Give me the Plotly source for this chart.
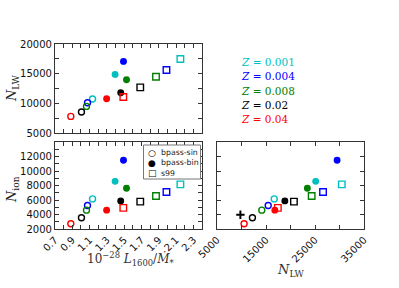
import plotly.graph_objects as go

# ---------------- data ----------------
z_labels = ["0.001", "0.004", "0.008", "0.02", "0.04"]
z_colors = ["#00bfbf", "#0000ff", "#008000", "#000000", "#ff0000"]
models = ["bpass-sin", "bpass-bin", "s99"]
symbols = ["circle-open", "circle", "square-open"]

# 10^-28 L1600 / Mdot* (order follows z_labels)
ratio_sin = [1.134, 1.076, 1.064, 1.006, 0.883]
ratio_bin = [1.395, 1.492, 1.527, 1.460, 1.297]
ratio_s99 = [2.150, 1.989, 1.868, 1.686, 1.490]

# N_LW (top panel)
nlw_sin = [10730, 10100, 9480, 8540, 7800]
nlw_bin = [14875, 17065, 13980, 11790, 10780]
nlw_s99 = [17470, 15615, 14490, 12690, 11066]

# N_ion
nion_sin = [6150, 5233, 4600, 3548, 2726]
nion_bin = [8575, 11490, 7616, 5877, 4600]
nion_s99 = [8160, 7110, 6560, 5781, 4918]

# N_LW (bottom-right panel)
nlw2_sin = [16680, 15450, 14140, 12230, 10530]
nlw2_bin = [25140, 29510, 23440, 18850, 16800]
nlw2_s99 = [30470, 26640, 24320, 20700, 17420]

# extra point (black plus)
extra_nlw = [9775]
extra_nion = [3960]

W, H = 399, 288


def px_x(p):
    return p / W


def px_y(p):
    return 1 - p / H


fig = go.Figure()

ratios = [ratio_sin, ratio_bin, ratio_s99]
nlws = [nlw_sin, nlw_bin, nlw_s99]
nions = [nion_sin, nion_bin, nion_s99]
nlw2s = [nlw2_sin, nlw2_bin, nlw2_s99]
msize = [6, 5.5, 6.5]

for i in range(3):
    mk = dict(symbol=symbols[i], color=z_colors, size=msize[i],
              line=dict(width=1.4, color=z_colors))
    fig.add_trace(go.Scatter(x=ratios[i], y=nlws[i], mode="markers", marker=mk,
                             xaxis="x", yaxis="y", showlegend=False))
    fig.add_trace(go.Scatter(x=ratios[i], y=nions[i], mode="markers", marker=mk,
                             xaxis="x2", yaxis="y2", showlegend=False))
    fig.add_trace(go.Scatter(x=nlw2s[i], y=nions[i], mode="markers", marker=mk,
                             xaxis="x3", yaxis="y3", showlegend=False))

fig.add_trace(go.Scatter(x=extra_nlw, y=extra_nion, mode="markers",
                         marker=dict(symbol="cross-thin-open", size=6, color="black",
                                     line=dict(width=2, color="black")),
                         xaxis="x3", yaxis="y3", showlegend=False))

tickfont = dict(family="DejaVu Sans", size=10, color="#111")
common = dict(showline=True, linewidth=1.2, linecolor="#333", mirror="allticks",
              ticks="inside", ticklen=4, tickwidth=1, tickcolor="#333",
              showgrid=False, zeroline=False, tickfont=tickfont,
              automargin=False, tickformat="d")

dom_left = [px_x(55), px_x(202)]
dom_right = [px_x(217), px_x(364)]
dom_top = [px_y(133), px_y(44)]
dom_bot = [px_y(229), px_y(142)]

fig.update_layout(
    width=W, height=H,
    margin=dict(l=0, r=0, t=0, b=0),
    paper_bgcolor="white", plot_bgcolor="white",
    showlegend=False,
    xaxis=dict(domain=dom_left, anchor="y", range=[0.7, 2.4],
               tickvals=[0.7, 0.9, 1.1, 1.3, 1.5, 1.7, 1.9, 2.1, 2.3],
               showticklabels=False,
               minor=dict(dtick=0.1, tick0=0.7, ticks="inside", ticklen=4,
                          tickcolor="#333"), **common),
    yaxis=dict(domain=dom_top, anchor="x", range=[5000, 20000],
               tickvals=[5000, 10000, 15000, 20000],
               minor=dict(dtick=2500, tick0=5000, ticks="inside", ticklen=4,
                          tickcolor="#333"), **common),
    xaxis2=dict(domain=dom_left, anchor="y2", range=[0.7, 2.4],
                tickvals=[0.7, 0.9, 1.1, 1.3, 1.5, 1.7, 1.9, 2.1, 2.3],
                ticktext=["0.7", "0.9", "1.1", "1.3", "1.5", "1.7", "1.9", "2.1", "2.3"],
                tickangle=-45,
                minor=dict(dtick=0.1, tick0=0.7, ticks="inside", ticklen=4,
                           tickcolor="#333"), **common),
    yaxis2=dict(domain=dom_bot, anchor="x2", range=[2000, 14000],
                tickvals=[2000, 4000, 6000, 8000, 10000, 12000],
                minor=dict(dtick=1000, tick0=2000, ticks="inside", ticklen=4,
                           tickcolor="#333"), **common),
    xaxis3=dict(domain=dom_right, anchor="y3", range=[5000, 35000],
                tickvals=[5000, 15000, 25000, 35000], tickangle=-45,
                minor=dict(dtick=5000, tick0=5000, ticks="inside", ticklen=4,
                           tickcolor="#333"), **common),
    yaxis3=dict(domain=dom_bot, anchor="x3", range=[2000, 14000],
                tickvals=[2000, 4000, 6000, 8000, 10000, 12000, 14000],
                showticklabels=False, **common),
)

serif = "DejaVu Serif"
ann = []
# axis titles
ann.append(dict(x=px_x(12), y=px_y(88), xref="paper", yref="paper",
                xanchor="center", yanchor="middle",
                text="<i>N</i><sub>LW</sub>", textangle=-90, showarrow=False,
                font=dict(family=serif, size=13, color="#222")))
ann.append(dict(x=px_x(12), y=px_y(190), xref="paper", yref="paper",
                xanchor="center", yanchor="middle",
                text="<i>N</i><sub>ion</sub>", textangle=-90, showarrow=False,
                font=dict(family=serif, size=13, color="#222")))
ann.append(dict(x=px_x(130), y=px_y(259), xref="paper", yref="paper",
                xanchor="center", yanchor="middle",
                text="10<sup>−28</sup> <i>L</i><sub>1600</sub>/<i>Ṁ</i><sub>*</sub>",
                showarrow=False, font=dict(family=serif, size=12, color="#333")))
ann.append(dict(x=px_x(291), y=px_y(270), xref="paper", yref="paper",
                xanchor="center", yanchor="middle",
                text="<i>N</i><sub>LW</sub>", showarrow=False,
                font=dict(family=serif, size=13, color="#333")))

# Z labels
z_ys = [62, 76, 90.5, 105, 119]
for lab, col, yy in zip(z_labels, z_colors, z_ys):
    ann.append(dict(x=px_x(239), y=px_y(yy), xref="paper", yref="paper",
                    xanchor="left", yanchor="middle",
                    text=f"<i>Z</i> = {lab}", showarrow=False,
                    font=dict(family=serif, size=10.5, color=col)))

# manual legend
leg_glyphs = ["○", "●", "□"]
leg_ys = [152.7, 162.7, 173.3]
for g, lab, yy in zip(leg_glyphs, models, leg_ys):
    ann.append(dict(x=px_x(152), y=px_y(yy), xref="paper", yref="paper",
                    xanchor="center", yanchor="middle", text=f"<b>{g}</b>",
                    showarrow=False,
                    font=dict(family="DejaVu Sans", size=9, color="black")))
    ann.append(dict(x=px_x(158.5), y=px_y(yy), xref="paper", yref="paper",
                    xanchor="left", yanchor="middle", text=lab,
                    showarrow=False,
                    font=dict(family="DejaVu Sans", size=7.8, color="#222")))

fig.update_layout(annotations=ann)
fig.add_shape(type="rect", xref="paper", yref="paper",
              x0=px_x(143.5), x1=px_x(200.5), y0=px_y(179), y1=px_y(145),
              line=dict(color="#777", width=1), fillcolor="white", layer="above")

fig.write_html("out.html", config={"displayModeBar": False},
               post_script="document.body.style.margin='0';document.body.style.padding='0';")
